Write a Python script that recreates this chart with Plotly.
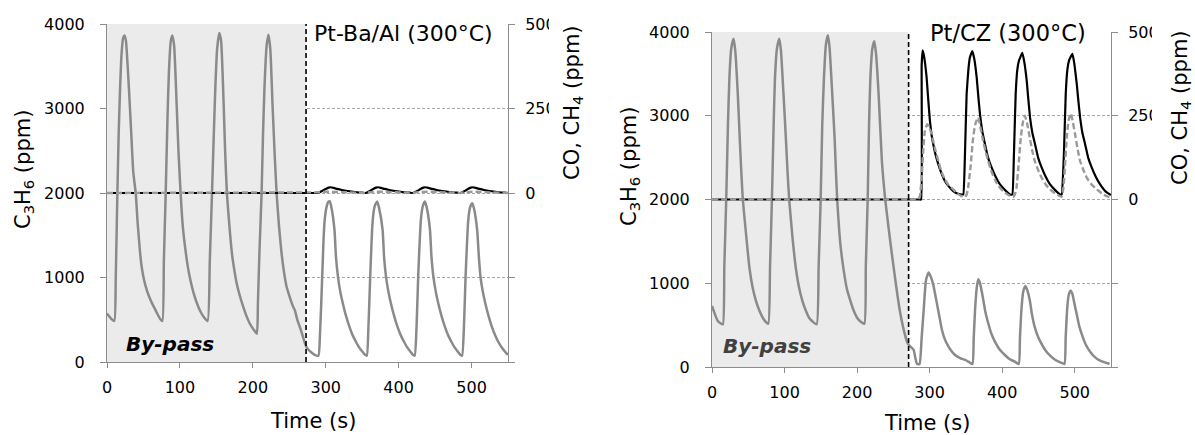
import plotly.graph_objects as go

# ---------------- data ----------------
# Left panel: Pt-Ba/Al (300°C)
t_left_c3h6 = [0, 5, 10, 12, 14, 16, 18, 20, 22, 24, 26, 28, 30, 33, 36, 39.5, 42, 45.5, 48, 51, 55, 60, 65, 69, 73, 76,
               78, 80.5, 83, 85, 87.5, 89.5, 92, 95.5, 98, 101, 104, 107.7, 111, 114.5, 119, 123.6, 128, 132.7, 138,
               141, 144, 146.5, 148.6, 151, 154, 156.5, 160, 162, 164.5, 168, 171.4, 175, 178, 182, 187, 191.5, 196, 201, 205.5,
               207, 209, 212, 214, 216, 219, 221.4, 224, 227, 230, 232.7, 236, 239.5, 243, 246.4, 251, 255.5, 257.7, 261, 264.5,
               268, 271, 274, 280, 285, 290,
               292, 295, 297, 298.6, 301, 303.5, 305.5, 308, 312, 314, 316.8, 320, 323.6, 328, 332.7, 337, 341.8, 346, 351, 354, 356.4,
               358.5, 361, 363, 364.5, 367, 370.5, 373, 378, 380, 382.7, 386, 389.5, 394, 398.6, 403, 407.7, 412, 416.8, 419.5, 422,
               424.5, 426.8, 429, 430.5, 433, 436, 438.5, 443, 445, 447.7, 451, 454.5, 459, 463.6, 468, 472.7, 477, 481.8, 484.5, 487,
               489.5, 491.8, 494, 495.5, 498, 501, 503.5, 507.7, 510, 512.3, 515.5, 519, 523.5, 528, 532.5, 537, 542, 548.6, 550]
c3h6_left = [575, 520, 485, 1000, 1900, 2700, 3250, 3650, 3830, 3865, 3800, 3550, 3250, 2750, 2250, 1990, 1650, 1281, 1100, 965, 840, 729, 640, 571, 510, 485,
             1200, 1990, 2900, 3448, 3800, 3865, 3750, 3054, 2500, 1990, 1600, 1320, 1120, 965, 810, 690, 600, 532, 485,
             1200, 1990, 2700, 3250, 3700, 3894, 3800, 3054, 2500, 1990, 1600, 1281, 1070, 926, 790, 650, 540, 453, 385, 335,
             700, 1281, 1990, 2700, 3250, 3750, 3874, 3700, 3054, 2450, 1990, 1600, 1281, 1050, 887, 760, 650, 611, 500, 414,
             320, 236, 170, 115, 85, 75,
             300, 968, 1450, 1683, 1830, 1895, 1900, 1820, 1563, 1250, 1008, 830, 690, 540, 413, 315, 234, 170, 115, 85, 75,
             400, 1008, 1450, 1683, 1840, 1900, 1830, 1563, 1250, 1008, 830, 690, 540, 413, 315, 234, 170, 115, 85, 75,
             400, 1008, 1450, 1683, 1840, 1900, 1830, 1563, 1250, 1008, 830, 690, 540, 413, 315, 234, 170, 115, 85, 75,
             400, 1008, 1450, 1683, 1830, 1880, 1810, 1563, 1250, 1008, 830, 690, 540, 413, 315, 234, 165, 95, 85]

t_left_co = [0, 100, 200, 270, 285, 290, 295, 300, 304, 307, 311, 316, 322, 330, 340, 350, 355,
             360, 365, 369, 372, 376, 381, 387, 395, 405, 415, 420,
             425, 430, 434, 437, 441, 446, 452, 460, 470, 480, 485,
             490, 495, 499, 502, 506, 511, 517, 525, 535, 545, 550]
co_left = [0, 0, 0, 0, 0, 1, 6, 12, 16, 17, 15, 12, 9, 6, 3, 1, 0,
           5, 12, 16, 17, 15, 12, 9, 6, 3, 1, 0,
           5, 12, 16, 17, 15, 12, 9, 6, 3, 1, 0,
           5, 12, 16, 17, 15, 12, 9, 6, 3, 1, 0]

t_left_ch4 = [0, 285, 292, 300, 308, 318, 330, 345, 355, 358, 366, 374, 384, 396, 410, 420,
              423, 431, 439, 449, 461, 475, 485, 488, 496, 504, 514, 526, 540, 550]
ch4_left = [0, 0, 2, 4, 4, 3, 2, 1, 0, 2, 4, 4, 3, 2, 1, 0,
            2, 4, 4, 3, 2, 1, 0, 2, 4, 4, 3, 2, 1, 0]

# Right panel: Pt/CZ (300°C)
t_right_c3h6 = [0, 4, 8, 12, 15, 17, 19.6, 22, 24, 26.5, 29.7, 32, 35.6, 38, 40, 42.5, 47, 51.6, 56, 60.7, 65, 70, 74, 77.6,
                80, 82.6, 85, 86.8, 89.5, 92.7, 95, 98.6, 101.8, 104, 106.4, 111, 115.5, 120, 124.7, 129, 133.8, 139, 144.3,
                147, 149.8, 152, 154.3, 157, 159.8, 162, 165.8, 169, 171, 172.6, 177, 181.7, 186, 190.9, 195, 200, 205, 210,
                212, 214.6, 216.5, 218.3, 221, 223.7, 226, 229.7, 234.2, 238.8, 243.4, 248, 254.8, 258, 261.6, 265, 268.5, 271,
                274, 278, 280.5, 282.6, 286,
                289, 291.8, 295, 298.6, 301.5, 305.5, 310, 313.5, 317, 321, 326, 330, 335, 342, 349, 355, 359,
                360.8, 362.6, 365, 367, 369.5, 374, 377, 380.8, 385, 390, 396, 403.7, 410, 417.4, 422.8,
                424.5, 426.5, 429, 432, 434.5, 438, 441, 444.7, 449, 453.9, 460, 467.6, 474, 481, 485.8,
                487.5, 489.5, 491.5, 494, 496.5, 499.5, 503, 506.4, 511, 515.5, 521, 527, 533, 538.4, 545.2, 548]
c3h6_right = [728, 630, 549, 520, 509, 1200, 2000, 2900, 3451, 3800, 3920, 3780, 3252, 2775, 2400, 2000, 1582, 1185, 950, 787, 680, 588, 540, 517,
              1200, 2000, 2900, 3451, 3800, 3920, 3780, 3252, 2735, 2350, 2000, 1543, 1185, 950, 787, 680, 588, 540, 509,
              1200, 2000, 2900, 3451, 3850, 3960, 3820, 3252, 2735, 2300, 2000, 1463, 1145, 930, 787, 680, 588, 540, 517,
              1200, 2000, 2900, 3451, 3800, 3889, 3750, 3252, 2457, 2000, 1662, 1344, 907, 720, 549, 420, 310, 265,
              240, 203, 100, 36, 36,
              350, 681, 1040, 1127, 1080, 960, 761, 600, 442, 330, 243, 190, 143, 105, 84, 55, 36,
              350, 681, 950, 1048, 1000, 800, 650, 522, 400, 303, 215, 143, 95, 64, 36,
              350, 681, 900, 968, 920, 800, 630, 482, 370, 283, 195, 124, 80, 52, 36,
              350, 681, 850, 912, 880, 761, 620, 482, 360, 263, 185, 124, 85, 64, 44, 40]

t_right_co = [0, 100, 200, 270, 280, 286, 288.3, 289, 290.4, 292.5, 295.8, 298, 300.4, 302.5, 305, 308, 312, 316, 321, 326,
              332.6, 338, 344,
              346.4, 348.5, 351, 353.5, 355.6, 358.8, 361.5, 364.8, 367, 369.4, 372.5, 376.3, 380.5, 385.5, 391, 397, 404, 410.8,
              414, 416, 418.6, 421, 423.2, 427.8, 430.5, 433.8, 436, 438.4, 441.5, 445.3, 449.5, 454.5, 460, 466, 473, 479.8,
              482, 485, 487.6, 490, 492.2, 496.8, 499.5, 502.8, 505, 507.4, 510.5, 514.3, 518.5, 523.5, 529, 535, 542, 548.8, 550]
co_right = [0, 0, 0, 0, 0, 0, 0, 400, 445, 425, 365, 300, 235, 195, 165, 135, 105, 80, 55, 40, 25, 18, 15,
            15, 120, 315, 390, 425, 443, 420, 365, 310, 255, 205, 165, 125, 95, 68, 45, 28, 15,
            15, 120, 315, 390, 415, 438, 410, 355, 300, 245, 200, 165, 125, 95, 68, 45, 28, 15,
            15, 130, 315, 390, 415, 435, 405, 345, 295, 245, 200, 165, 125, 95, 68, 45, 25, 15, 14]

t_right_ch4 = [0, 100, 200, 270, 280, 284, 286.5, 289, 291, 293.5, 296.7, 299.5, 302.7, 307, 312, 316, 321, 326, 332.6,
               338, 344, 348.6,
               351, 353, 356.5, 360, 363, 366.9, 370, 373.8, 377, 380.7, 385, 389.9, 395, 401.4, 408, 415,
               417.5, 419.7, 422.5, 425.7, 428.5, 431.2, 434.5, 438, 441.5, 445, 449.5, 454.5, 460, 466, 473, 479.8, 482,
               484.4, 486.5, 489, 491.5, 494.5, 497.5, 500.5, 504, 507.4, 512, 516.6, 522, 528, 534, 539.6, 545, 548.8]
ch4_right = [0, 0, 0, 0, 0, 0, 10, 65, 140, 205, 225, 215, 195, 155, 115, 85, 60, 43, 30, 18, 10, 7,
             15, 35, 100, 185, 225, 245, 215, 175, 145, 115, 85, 60, 40, 25, 14, 7,
             15, 35, 100, 185, 230, 250, 225, 185, 145, 115, 88, 65, 45, 30, 18, 10, 8,
             35, 100, 185, 235, 257, 230, 195, 150, 115, 88, 65, 48, 35, 24, 15, 9, 7]

x_ticks = [0, 100, 200, 300, 400, 500]
y_left_ticks = [0, 1000, 2000, 3000, 4000]
y_right_tickvals = [-500, -250, 0, 250, 500]
y_right_ticktext = ["", "", "0", "250", "500"]
bypass_end_left = 273
bypass_end_right = 271
panel_titles = ["Pt-Ba/Al (300°C)", "Pt/CZ (300°C)"]

# ---------------- figure ----------------
W, H = 1195, 435
FONT = "DejaVu Sans"
GRAY_AX = "#8c8c8c"
C3H6_COLOR = "#8a8a8a"
CH4_COLOR = "#9a9a9a"
SMOOTH = 0.5

fig = go.Figure()

# left panel
fig.add_trace(go.Scatter(x=t_left_c3h6, y=c3h6_left, mode="lines", xaxis="x", yaxis="y",
                         line=dict(color=C3H6_COLOR, width=2.5, shape="spline", smoothing=SMOOTH), showlegend=False))
fig.add_trace(go.Scatter(x=t_left_co, y=co_left, mode="lines", xaxis="x", yaxis="y2",
                         line=dict(color="black", width=2.2, shape="spline", smoothing=SMOOTH), showlegend=False))
fig.add_trace(go.Scatter(x=t_left_ch4, y=ch4_left, mode="lines", xaxis="x", yaxis="y2",
                         line=dict(color=CH4_COLOR, width=2.4, dash="6px,3px"), showlegend=False))
# right panel
fig.add_trace(go.Scatter(x=t_right_c3h6, y=c3h6_right, mode="lines", xaxis="x2", yaxis="y3",
                         line=dict(color=C3H6_COLOR, width=2.5, shape="spline", smoothing=SMOOTH), showlegend=False))
fig.add_trace(go.Scatter(x=t_right_co, y=co_right, mode="lines", xaxis="x2", yaxis="y4",
                         line=dict(color="black", width=2.2, shape="spline", smoothing=0.3), showlegend=False))
fig.add_trace(go.Scatter(x=t_right_ch4, y=ch4_right, mode="lines", xaxis="x2", yaxis="y4",
                         line=dict(color=CH4_COLOR, width=2.4, dash="6px,3px", shape="spline", smoothing=SMOOTH),
                         showlegend=False))


def px_x(p):
    return p / W


def px_y(p):
    return (H - p) / H


tickfont = dict(family=FONT, size=16, color="black")
xcommon = dict(range=[0, 550], tickvals=x_ticks, ticks="outside", ticklen=5, tickcolor=GRAY_AX,
               showline=True, linecolor=GRAY_AX, linewidth=1, showgrid=False, zeroline=False,
               tickfont=tickfont, ticklabelstandoff=6, automargin=False)
yleft = dict(range=[0, 4000], tickvals=y_left_ticks, ticks="outside", ticklen=6, tickcolor=GRAY_AX,
             showline=True, linecolor=GRAY_AX, linewidth=1, showgrid=True, gridcolor="#a8a8a8",
             griddash="3px,2px", gridwidth=1, zeroline=False, tickfont=tickfont, ticklabelstandoff=12,
             automargin=False)
yright = dict(range=[-500, 500], tickvals=y_right_tickvals, ticktext=y_right_ticktext, ticks="outside",
              ticklen=6, tickcolor=GRAY_AX, showline=True, linecolor=GRAY_AX, linewidth=1, showgrid=False,
              zeroline=False, tickfont=tickfont, side="right", ticklabelstandoff=7, automargin=False)

fig.update_layout(
    template="none",
    width=W, height=H, margin=dict(l=0, r=0, t=0, b=0, pad=0, autoexpand=False), autosize=False,
    paper_bgcolor="white", plot_bgcolor="rgba(0,0,0,0)",
    xaxis=dict(domain=[px_x(107), px_x(508)], anchor="y", **xcommon),
    yaxis=dict(domain=[px_y(362), px_y(24)], anchor="x", **yleft),
    yaxis2=dict(overlaying="y", anchor="x", **yright),
    xaxis2=dict(domain=[px_x(712), px_x(1111)], anchor="y3", **xcommon),
    yaxis3=dict(domain=[px_y(367), px_y(32)], anchor="x2", **yleft),
    yaxis4=dict(overlaying="y3", anchor="x2", **yright),
    showlegend=False,
)

shapes = []
# by-pass shading
shapes.append(dict(type="rect", xref="x", yref="y", x0=0, x1=bypass_end_left, y0=0, y1=4000,
                   fillcolor="#ebebeb", line=dict(width=0), layer="between"))
shapes.append(dict(type="rect", xref="x2", yref="y3", x0=0, x1=bypass_end_right, y0=0, y1=4000,
                   fillcolor="#ebebeb", line=dict(width=0), layer="between"))
# vertical dashed lines
shapes.append(dict(type="line", xref="x", yref="y", x0=bypass_end_left, x1=bypass_end_left, y0=0, y1=4000,
                   line=dict(color="black", width=1.6, dash="5px,3px"), layer="above"))
shapes.append(dict(type="line", xref="x2", yref="y3", x0=bypass_end_right, x1=bypass_end_right, y0=0, y1=4000,
                   line=dict(color="black", width=1.6, dash="5px,3px"), layer="above"))
# white masks that clip the last digit of the right-axis labels (as in reference)
shapes.append(dict(type="rect", xref="paper", yref="paper", x0=px_x(549), x1=px_x(600), y0=px_y(130), y1=px_y(5),
                   fillcolor="white", line=dict(width=0), layer="above"))
shapes.append(dict(type="rect", xref="paper", yref="paper", x0=px_x(1152), x1=1.0, y0=px_y(130), y1=px_y(5),
                   fillcolor="white", line=dict(width=0), layer="above"))
fig.update_layout(shapes=shapes)

ann = []
title_font = dict(family=FONT, size=21, color="black")
# panel titles
ann.append(dict(text=panel_titles[0], xref="x", yref="y", x=283, y=3890, xanchor="left", yanchor="middle",
                showarrow=False, font=dict(family=FONT, size=22, color="black"), bgcolor="white", borderpad=0))
ann.append(dict(text=panel_titles[1], xref="x2", yref="y3", x=299, y=3985, xanchor="left", yanchor="middle",
                showarrow=False, font=dict(family=FONT, size=22.5, color="black"), bgcolor="white", borderpad=0))
# by-pass labels
ann.append(dict(text="<b><i>By-pass</i></b>", xref="x", yref="y", x=86, y=210, xanchor="center", yanchor="middle",
                showarrow=False, font=dict(family=FONT, size=20, color="black")))
ann.append(dict(text="<b><i>By-pass</i></b>", xref="x2", yref="y3", x=76, y=250, xanchor="center", yanchor="middle",
                showarrow=False, font=dict(family=FONT, size=20, color="#404040")))
# axis titles
ann.append(dict(text="Time (s)", xref="paper", yref="paper", x=px_x(313), y=px_y(421), xanchor="center",
                yanchor="middle", showarrow=False, font=title_font))
ann.append(dict(text="Time (s)", xref="paper", yref="paper", x=px_x(927), y=px_y(423), xanchor="center",
                yanchor="middle", showarrow=False, font=title_font))
ann.append(dict(text="C<sub>3</sub>H<sub>6</sub> (ppm)", xref="paper", yref="paper", x=px_x(24), y=px_y(170),
                xanchor="center", yanchor="middle", textangle=-90, showarrow=False, font=title_font))
ann.append(dict(text="C<sub>3</sub>H<sub>6</sub> (ppm)", xref="paper", yref="paper", x=px_x(630), y=px_y(167),
                xanchor="center", yanchor="middle", textangle=-90, showarrow=False, font=title_font))
ann.append(dict(text="CO, CH<sub>4</sub> (ppm)", xref="paper", yref="paper", x=px_x(573), y=px_y(103),
                xanchor="center", yanchor="middle", textangle=-90, showarrow=False, font=title_font))
ann.append(dict(text="CO, CH<sub>4</sub> (ppm)", xref="paper", yref="paper", x=px_x(1181), y=px_y(108),
                xanchor="center", yanchor="middle", textangle=-90, showarrow=False, font=title_font))
fig.update_layout(annotations=ann)

fig.write_html("out.html", config={"displayModeBar": False},
               post_script="document.body.style.margin='0';document.body.style.overflow='hidden';")
